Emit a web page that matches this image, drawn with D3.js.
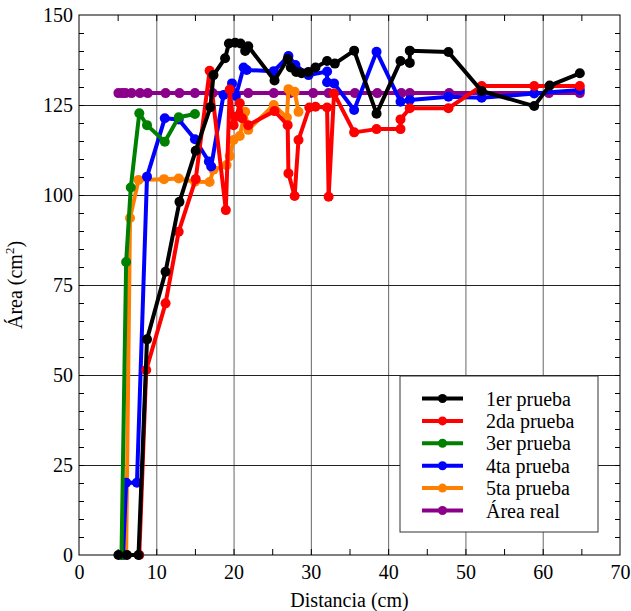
<!DOCTYPE html>
<html>
<head>
<meta charset="utf-8">
<script src="https://cdn.jsdelivr.net/npm/d3@7"></script>
<style>
  body { margin: 0; background: #fff; }
</style>
</head>
<body>
<div id="chart"></div>
<script>
// ===== データ =====
const xTicks = [0, 10, 20, 30, 40, 50, 60, 70];
const yTicks = [0, 25, 50, 75, 100, 125, 150];

const x1er = [5.1, 6.2, 7.7, 8.8, 11.2, 13.0, 15.1, 17.0, 17.4, 18.9, 19.4, 20.2, 20.9, 21.5, 21.9, 25.3, 27.0, 27.4, 28.1, 28.8, 29.7, 30.6, 32.1, 33.1, 35.6, 38.5, 41.6, 42.8, 42.8, 47.8, 52.1, 58.9, 60.9, 64.8];
const y1er = [0, 0, 0, 59.9, 78.7, 98.1, 112.3, 124.4, 133.3, 138.0, 142.1, 142.3, 142.1, 140.0, 141.3, 131.8, 137.8, 135.4, 134.2, 133.8, 134.2, 135.4, 137.2, 136.5, 140.1, 122.6, 137.2, 136.7, 140.1, 139.7, 128.9, 124.7, 130.4, 133.8];

const x2da = [7.8, 8.7, 11.2, 12.9, 15.1, 16.9, 19.0, 19.5, 20.0, 20.4, 20.8, 21.1, 21.9, 25.3, 27.0, 27.1, 27.9, 28.4, 29.8, 30.6, 32.1, 32.3, 33.0, 35.6, 38.5, 41.6, 41.6, 42.8, 47.8, 52.1, 58.9, 64.8];
const y2da = [0, 51.4, 69.9, 89.8, 104.4, 134.5, 95.8, 129.3, 119.4, 121.8, 125.5, 121.3, 119.4, 123.3, 119.4, 106.0, 99.7, 115.3, 124.3, 124.5, 124.3, 99.5, 128.2, 117.4, 118.3, 118.3, 121.0, 124.1, 124.1, 130.3, 130.3, 130.3];

const x3er = [5.5, 6.1, 6.7, 7.8, 8.8, 11.1, 12.9, 15.0];
const y3er = [0, 81.4, 102.1, 122.7, 119.4, 114.8, 121.6, 122.5];

const x4ta = [5.7, 6.1, 7.5, 8.8, 11.1, 12.9, 15.0, 16.8, 17.1, 18.7, 19.8, 20.3, 21.3, 21.7, 25.2, 27.1, 28.0, 29.7, 32.1, 32.1, 33.0, 35.6, 38.5, 41.6, 42.8, 47.8, 52.1, 58.9, 64.8];
const y4ta = [0, 20.1, 20.1, 105.1, 121.3, 121.0, 115.5, 109.3, 107.9, 127.8, 131.0, 127.5, 135.4, 134.7, 134.4, 138.6, 136.1, 133.3, 134.3, 131.3, 131.0, 123.6, 139.8, 125.9, 126.4, 127.3, 127.0, 128.2, 129.2];

const x5ta = [6.1, 6.6, 7.7, 11.0, 12.9, 15.0, 16.9, 17.4, 19.1, 19.5, 20.0, 20.8, 21.5, 21.9, 25.2, 26.9, 27.1, 27.9, 28.4];
const y5ta = [0, 93.6, 104.2, 104.4, 104.6, 103.7, 103.6, 107.0, 108.3, 110.8, 115.3, 116.4, 123.1, 118.1, 125.0, 121.5, 129.4, 128.7, 123.1];

const xReal = [5.1, 5.6, 6.0, 6.8, 7.9, 8.9, 11.2, 13.0, 15.0, 17.3, 19.9, 21.9, 25.2, 27.3, 30.3, 32.3, 35.7, 38.6, 41.7, 42.8, 47.9, 60.8, 64.8];
const yReal = xReal.map(() => 128.3);

const seriesNames = ['1er prueba', '2da prueba', '3er prueba', '4ta prueba', '5ta prueba', 'Área real'];
const seriesColors = ['#000000', '#ff0000', '#008000', '#0000ff', '#ff8000', '#8b008b'];
const seriesX = [x1er, x2da, x3er, x4ta, x5ta, xReal];
const seriesY = [y1er, y2da, y3er, y4ta, y5ta, yReal];

(function() {
  const FONT = "'Liberation Serif', 'Times New Roman', Times, 'Nimbus Roman', 'Nimbus Roman No9 L', FreeSerif, 'Noto Serif', 'DejaVu Serif', serif";

  // ===== SVG作成 =====
  const width = 631, height = 611;
  const pLeft = 79, pRight = 620, pTop = 15, pBottom = 555;

  const svg = d3.select('#chart').append('svg')
    .attr('width', width)
    .attr('height', height)
    .style('font-family', FONT);

  const x = d3.scaleLinear().domain([0, 70]).range([pLeft, pRight]);
  const y = d3.scaleLinear().domain([0, 150]).range([pBottom, pTop]);

  // グリッド線
  svg.append('g')
    .attr('transform', `translate(0,${pBottom})`)
    .call(d3.axisBottom(x).tickValues(xTicks.slice(1, -1)).tickSize(-(pBottom - pTop)).tickFormat(''))
    .call(g => g.select('.domain').remove())
    .call(g => g.selectAll('line').attr('stroke', '#666').attr('stroke-width', 1));

  svg.append('g')
    .attr('transform', `translate(${pLeft},0)`)
    .call(d3.axisLeft(y).tickValues(yTicks.slice(1, -1)).tickSize(-(pRight - pLeft)).tickFormat(''))
    .call(g => g.select('.domain').remove())
    .call(g => g.selectAll('line').attr('stroke', '#222').attr('stroke-width', 1));

  // 小目盛り（内向き）
  const xMinor = d3.range(5, 70, 5);
  const yMinor = d3.range(5, 150, 5);
  function minor(axis, tr) {
    svg.append('g')
      .attr('transform', tr)
      .call(axis)
      .call(g => g.select('.domain').remove())
      .call(g => g.selectAll('line').attr('stroke', '#000').attr('stroke-width', 1));
  }
  minor(d3.axisBottom(x).tickValues(xMinor).tickSize(-6).tickFormat(''), `translate(0,${pBottom})`);
  minor(d3.axisTop(x).tickValues(xMinor).tickSize(-6).tickFormat(''), `translate(0,${pTop})`);
  minor(d3.axisLeft(y).tickValues(yMinor).tickSize(-5).tickFormat(''), `translate(${pLeft},0)`);
  minor(d3.axisRight(y).tickValues(yMinor).tickSize(-5).tickFormat(''), `translate(${pRight},0)`);

  // 目盛りラベル
  svg.append('g')
    .attr('transform', `translate(0,${pBottom})`)
    .call(d3.axisBottom(x).tickValues(xTicks).tickSize(0).tickPadding(10))
    .attr('font-family', null).attr('font-size', 20)
    .call(g => g.select('.domain').remove())
    .call(g => g.selectAll('text').attr('fill', '#000'));

  svg.append('g')
    .attr('transform', `translate(${pLeft},0)`)
    .call(d3.axisLeft(y).tickValues(yTicks).tickSize(0).tickPadding(6))
    .attr('font-family', null).attr('font-size', 20)
    .call(g => g.select('.domain').remove())
    .call(g => g.selectAll('text').attr('fill', '#000'));

  // 枠
  svg.append('rect')
    .attr('x', pLeft).attr('y', pTop)
    .attr('width', pRight - pLeft).attr('height', pBottom - pTop)
    .attr('fill', 'none').attr('stroke', '#000').attr('stroke-width', 1);

  // 軸タイトル
  svg.append('text')
    .attr('x', (pLeft + pRight) / 2).attr('y', 607)
    .attr('text-anchor', 'middle').attr('font-size', 20)
    .text('Distancia (cm)');

  const yt = svg.append('text')
    .attr('transform', `translate(22,${(pTop + pBottom) / 2}) rotate(-90)`)
    .attr('text-anchor', 'middle').attr('font-size', 20);
  yt.append('tspan').text('Área (cm');
  yt.append('tspan').attr('font-size', 13).attr('dy', -8).text('2');
  yt.append('tspan').attr('dy', 8).text(')');

  // ===== 系列描画（後ろから） =====
  const line = d3.line().x(d => x(d[0])).y(d => y(d[1]));
  for (let i = seriesNames.length - 1; i >= 0; i--) {
    const pts = seriesX[i].map((v, j) => [v, seriesY[i][j]]);
    const g = svg.append('g');
    g.append('path')
      .datum(pts)
      .attr('d', line)
      .attr('fill', 'none')
      .attr('stroke', seriesColors[i])
      .attr('stroke-width', 4)
      .attr('stroke-linejoin', 'round');
    g.selectAll('circle')
      .data(pts)
      .enter()
      .append('circle')
      .attr('cx', d => x(d[0]))
      .attr('cy', d => y(d[1]))
      .attr('r', 5)
      .attr('fill', seriesColors[i]);
  }

  // ===== 凡例 =====
  const legend = svg.append('g');
  legend.append('rect')
    .attr('x', 400).attr('y', 376).attr('width', 198).attr('height', 156)
    .attr('fill', '#fff').attr('stroke', '#333').attr('stroke-width', 1);
  seriesNames.forEach((name, i) => {
    const ly = 398.5 + i * 22.4;
    legend.append('line')
      .attr('x1', 422).attr('x2', 463).attr('y1', ly).attr('y2', ly)
      .attr('stroke', seriesColors[i]).attr('stroke-width', 4);
    legend.append('circle')
      .attr('cx', 442.5).attr('cy', ly).attr('r', 4.5)
      .attr('fill', seriesColors[i]);
    legend.append('text')
      .attr('x', 486).attr('y', ly).attr('dy', '0.35em')
      .attr('font-size', 20)
      .text(name);
  });
})();
</script>
</body>
</html>
